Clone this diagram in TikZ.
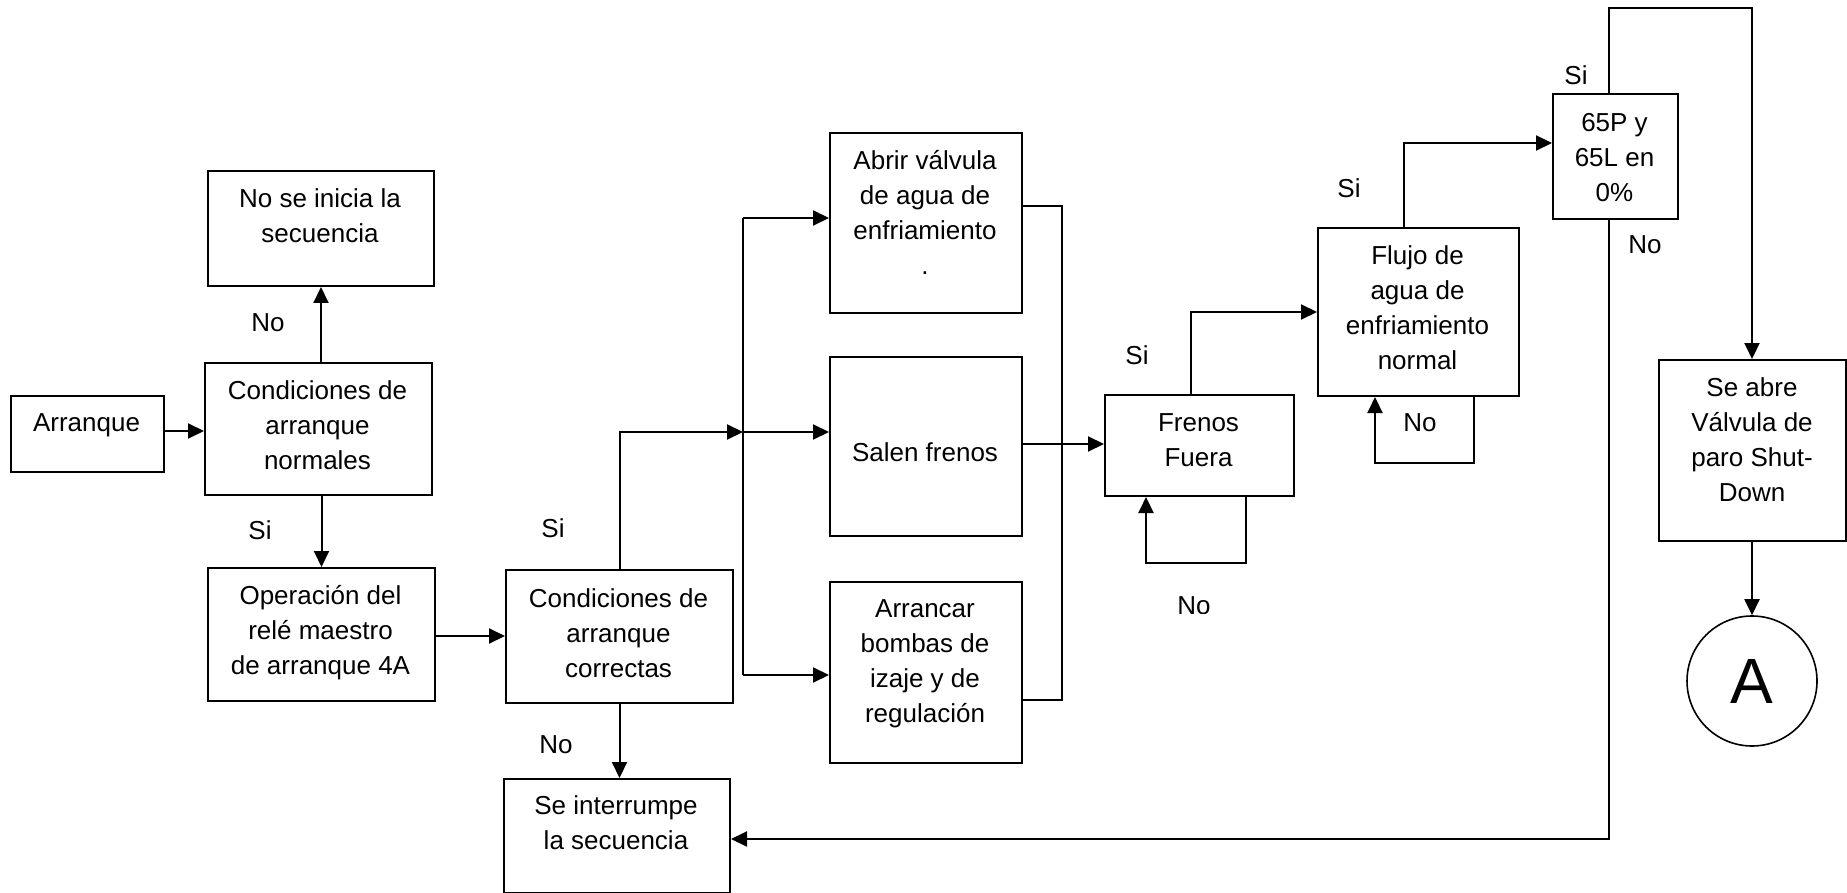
\documentclass[tikz,border=0pt]{standalone}
\usepackage{fontspec}
\setmainfont{Liberation Sans}
\usetikzlibrary{arrows.meta}

\begin{document}
\begin{tikzpicture}[x=1pt,y=-1pt,
  box/.style={draw, line width=2pt, inner sep=0pt, anchor=north west},
  txt/.style={inner sep=0pt, anchor=north, align=center, font=\fontsize{26}{35}\selectfont},
  lbl/.style={inner sep=0pt, font=\fontsize{26}{35}\selectfont},
  conn/.style={line width=2pt},
  thinconn/.style={line width=1.6pt},
  arr/.style={line width=2pt, -{Triangle[length=16pt,width=15pt]}},
]
\useasboundingbox (0,0) rectangle (1847,893);

% process boxes
\node[box, minimum width=153pt, minimum height=76pt]  (arranque) at (10,395)  {};
\node[box, minimum width=226pt, minimum height=115pt] (noinicia) at (207,170) {};
\node[box, minimum width=227pt, minimum height=132pt] (condn)    at (204,362) {};
\node[box, minimum width=227pt, minimum height=133pt] (oper)     at (207,567) {};
\node[box, minimum width=227pt, minimum height=133pt] (condc)    at (505,569) {};
\node[box, minimum width=226pt, minimum height=114pt] (inter)    at (503,778) {};
\node[box, minimum width=192pt, minimum height=180pt] (abrir)    at (829,132) {};
\node[box, minimum width=192pt, minimum height=179pt] (salen)    at (829,356) {};
\node[box, minimum width=192pt, minimum height=181pt] (arrancar) at (829,581) {};
\node[box, minimum width=189pt, minimum height=101pt] (frenos)   at (1104,394) {};
\node[box, minimum width=201pt, minimum height=168pt] (flujo)    at (1317,227) {};
\node[box, minimum width=125pt, minimum height=125pt] (p65)      at (1552,93) {};
\node[box, minimum width=187pt, minimum height=181pt] (seabre)   at (1658,359) {};
\node[draw, circle, line width=1.6pt, minimum size=130pt, inner sep=0pt,
      font=\fontsize{64}{70}\selectfont] (circA) at (1752,681) {A};

% box texts
\node[txt] at (86.5,407) {\strut Arranque};
\node[txt] at (320,183)  {\strut No se inicia la\\secuencia};
\node[txt] at (317.5,375) {\strut Condiciones de\\arranque\\normales};
\node[txt] at (320.5,580) {\strut Operación del\\relé maestro\\de arranque 4A};
\node[txt] at (618.5,583) {\strut Condiciones de\\arranque\\correctas};
\node[txt] at (616,790)  {\strut Se interrumpe\\la secuencia};
\node[txt] at (925,145)  {\strut Abrir válvula\\de agua de\\enfriamiento\\.};
\node[txt] at (925,437)  {\strut Salen frenos};
\node[txt] at (925,593)  {\strut Arrancar\\bombas de\\izaje y de\\regulación};
\node[txt] at (1198.5,407) {\strut Frenos\\Fuera};
\node[txt] at (1417.5,240) {\strut Flujo de\\agua de\\enfriamiento\\normal};
\node[txt] at (1614.5,107) {\strut 65P y\\65L en\\0\%};
\node[txt] at (1752,372) {\strut Se abre\\Válvula de\\paro Shut-\\Down};

% branch labels
\node[lbl] at (268,323)  {No};
\node[lbl] at (260,530)  {Si};
\node[lbl] at (553,528)  {Si};
\node[lbl] at (556,745)  {No};
\node[lbl] at (1137,355) {Si};
\node[lbl] at (1420,423) {No};
\node[lbl] at (1349,188) {Si};
\node[lbl] at (1576,75)  {Si};
\node[lbl] at (1645,245) {No};
\begin{scope}
  \clip (1150,585) rectangle (1240,613);
  \node[lbl] at (1194,606) {No};
\end{scope}

% junction points of the distribution line
\coordinate (jA) at (743,218);
\coordinate (jS) at (743,432);
\coordinate (jB) at (743,675);

% connectors
\draw[arr] (arranque.east |- 0,431) -- (condn.west |- 0,431);
\draw[arr] (condn.north -| noinicia.south) -- (noinicia.south);
\draw[arr] (condn.south -| oper.north) -- (oper.north);
\draw[arr] (oper.east |- 0,636) -- (condc.west |- 0,636);
\draw[arr] (condc.north) |- (jS);
\draw[conn] (jA) -- (jB);
\draw[arr] (jA) -- (abrir.west |- jA);
\draw[arr] (jS) -- (salen.west |- jS);
\draw[arr] (jB) -- (arrancar.west |- jB);
\draw[thinconn] (abrir.east |- 0,206) -| (1062,700) -- (arrancar.east |- 0,700);
\draw[arr] (salen.east |- 0,444) -- (frenos.west |- 0,444);
\draw[arr] (condc.south) -- (inter.north -| condc.south);
\draw[arr] (frenos.north -| 1191,0) |- (flujo.west |- 0,312);
\draw[arr] (frenos.south -| 1246,0) -- (1246,563) -| (frenos.south -| 1146,0);
\draw[arr] (flujo.north -| 1404,0) |- (p65.west |- 0,143);
\draw[arr] (flujo.south -| 1474,0) -- (1474,463) -| (flujo.south -| 1375,0);
\draw[arr] (p65.north -| 1609,0) -- (1609,8) -| (seabre.north -| circA.north);
\draw[arr] (p65.south -| 1609,0) |- (inter.east |- 0,839);
\draw[arr] (seabre.south -| circA.north) -- (circA.north);
\end{tikzpicture}
\end{document}
